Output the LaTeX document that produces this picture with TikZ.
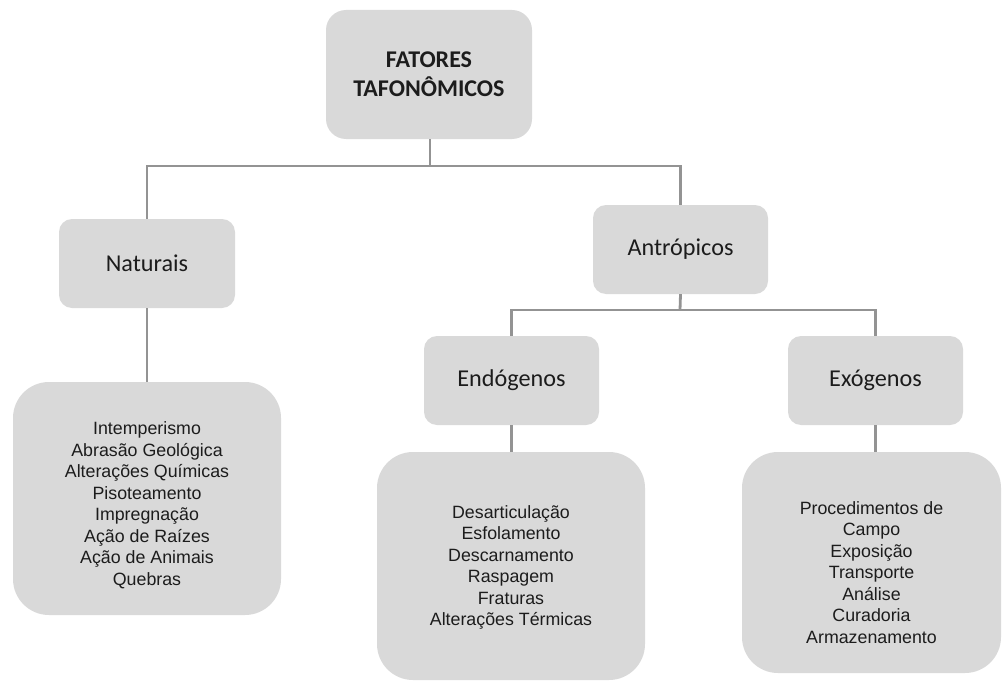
\documentclass[tikz,border=0pt]{standalone}
\usepackage{fontspec}
\setmainfont{Liberation Sans}
\newfontfamily\calib{Carlito}
\begin{document}
\begin{tikzpicture}[x=1pt,y=-1pt,
  box/.style={fill=boxgray, draw=none, rounded corners=13pt, inner sep=0pt, align=center, text=txtc},
  conn/.style={draw=linegray, line width=2.8pt},
  lbl/.style={font=\calib\fontsize{24.2}{28}\selectfont},
  lst/.style={font=\fontsize{17.8}{21.5}\selectfont}]
\definecolor{boxgray}{HTML}{D9D9D9}
\definecolor{linegray}{HTML}{939393}
\definecolor{txtc}{HTML}{1C1C1C}
\useasboundingbox (0,0) rectangle (1003,682);
\node[box, rounded corners=20pt, minimum width=206pt, minimum height=129pt,
      font=\calib\bfseries\fontsize{24}{29}\selectfont] (top) at (429,74.5) {FATORES\\TAFONÔMICOS};
\node[box, lbl, minimum width=176pt, minimum height=89pt] (nat) at (147,263.5) {Naturais};
\node[box, lbl, minimum width=175pt, minimum height=89pt] (ant) at (680.5,249.5) {Antrópicos};
\node[box, lbl, minimum width=175pt, minimum height=89pt] (endo) at (511.5,380.5) {Endógenos};
\node[box, lbl, minimum width=175pt, minimum height=89pt] (exo) at (875.5,380.5) {Exógenos};
\node[box, rounded corners=36pt, minimum width=268pt, minimum height=233pt] (natl) at (147,498.5) {};
\node[lst, align=center, text=txtc] (natt) at (147,505) {Intemperismo\\Abrasão Geológica\\Alterações Químicas\\Pisoteamento\\Impregnação\\Ação de Raízes\\Ação de Animais\\Quebras};
\node[box, rounded corners=36pt, minimum width=268pt, minimum height=228pt] (endl) at (511,566) {};
\node[lst, align=center, text=txtc] (endt) at (511,567.5) {Desarticulação\\Esfolamento\\Descarnamento\\Raspagem\\Fraturas\\Alterações Térmicas};
\node[box, rounded corners=36pt, minimum width=259pt, minimum height=221pt] (exol) at (871.5,562.5) {};
\node[lst, align=center, text=txtc] (exot) at (871.5,572.5) {Procedimentos de\\Campo\\Exposição\\Transporte\\Análise\\Curadoria\\Armazenamento};
\coordinate (j1) at (430,166);
\coordinate (j2) at (680,310);
\draw[conn] (top.south -| j1) -- (j1);
\draw[conn] (nat.north) |- (j1) -| (ant.north);
\draw[conn] (ant.south) -- (j2);
\draw[conn] (endo.north) |- (j2) -| (exo.north);
\draw[conn] (nat.south) -- (natl.north);
\draw[conn] (endo.south) -- (endl.north -| endo.south);
\draw[conn] (exo.south) -- (exol.north -| exo.south);
\end{tikzpicture}
\end{document}
